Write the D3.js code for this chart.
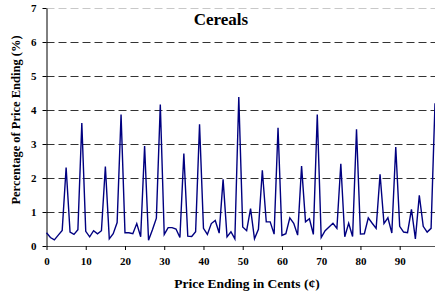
<!DOCTYPE html>
<html>
<head>
<meta charset="utf-8">
<script src="https://cdn.jsdelivr.net/npm/d3@7"></script>
<style>
  body { margin: 0; background: #fff; }
</style>
</head>
<body>
<script>
// Chart Params
var svgWidth = 435;
var svgHeight = 299;
var margin = { top: 8, right: 0, bottom: 53, left: 46.5 };
var width = svgWidth - margin.left - margin.right;
var height = svgHeight - margin.top - margin.bottom;
var fontFam = "'Liberation Serif', 'Times New Roman', serif";

// data: percentage of prices ending in each cent value (0-99)
var cents = d3.range(0, 100);
var percent = [
  0.39, 0.25, 0.18, 0.32, 0.46, 2.31, 0.41, 0.34, 0.48, 3.62,
  0.43, 0.27, 0.45, 0.36, 0.45, 2.34, 0.21, 0.36, 0.69, 3.87,
  0.39, 0.39, 0.36, 0.66, 0.27, 2.94, 0.17, 0.48, 0.82, 4.16,
  0.34, 0.54, 0.54, 0.50, 0.25, 2.72, 0.29, 0.28, 0.42, 3.58,
  0.52, 0.34, 0.66, 0.75, 0.38, 1.96, 0.27, 0.42, 0.21, 4.38,
  0.56, 0.45, 1.10, 0.21, 0.49, 2.23, 0.71, 0.71, 0.35, 3.48,
  0.31, 0.36, 0.83, 0.67, 0.32, 2.35, 0.71, 0.80, 0.34, 3.87,
  0.25, 0.45, 0.56, 0.67, 0.52, 2.42, 0.27, 0.67, 0.28, 3.43,
  0.35, 0.36, 0.83, 0.67, 0.52, 2.11, 0.66, 0.83, 0.38, 2.91,
  0.58, 0.41, 0.39, 1.08, 0.21, 1.49, 0.58, 0.41, 0.52, 4.20
];
var yTicks = [0, 1, 2, 3, 4, 5, 6, 7];
var xTicks = [0, 10, 20, 30, 40, 50, 60, 70, 80, 90];

var svg = d3.select("body").append("svg")
  .attr("width", svgWidth)
  .attr("height", svgHeight)
  .attr("font-family", fontFam)
  .attr("font-weight", "bold");

var chartGroup = svg.append("g")
  .attr("transform", `translate(${margin.left}, ${margin.top})`);

var xScale = d3.scaleLinear().domain([0, 99]).range([0, width]);
var yScale = d3.scaleLinear().domain([0, 7]).range([height, 0]);

// dashed grid lines
chartGroup.selectAll(".grid")
  .data(yTicks.filter(d => d > 0))
  .enter()
  .append("line")
  .attr("x1", 0)
  .attr("x2", width)
  .attr("y1", d => Math.round(yScale(d)) + 0.5)
  .attr("y2", d => Math.round(yScale(d)) + 0.5)
  .attr("stroke", d => d === 7 ? "#c8c8c8" : "#333")
  .attr("stroke-width", 1)
  .attr("stroke-dasharray", "8,4");

// axes
var bottomAxis = d3.axisBottom(xScale).tickValues(xTicks).tickFormat(d3.format("d")).tickSize(4).tickSizeOuter(0);
var leftAxis = d3.axisLeft(yScale).tickValues(yTicks).tickFormat(d3.format("d")).tickSize(4).tickSizeOuter(0);

var xAxis = chartGroup.append("g")
  .attr("transform", `translate(0, ${height})`)
  .call(bottomAxis)
  .attr("font-family", fontFam)
  .attr("font-size", "11px");
xAxis.select(".domain").attr("stroke", "#555");
xAxis.selectAll("text").attr("dy", "1.05em").attr("fill", "#000");

var yAxis = chartGroup.append("g")
  .call(leftAxis)
  .attr("font-family", fontFam)
  .attr("font-size", "11px");
yAxis.select(".domain").attr("stroke", "#000");
yAxis.selectAll("text").attr("x", -10).attr("fill", "#000");

// line
var line = d3.line()
  .x((d, i) => xScale(cents[i]))
  .y(d => yScale(d));

chartGroup.append("path")
  .datum(percent)
  .attr("fill", "none")
  .attr("stroke", "#000080")
  .attr("stroke-width", 1.4)
  .attr("d", line);

// title
svg.append("text")
  .attr("x", 221)
  .attr("y", 25)
  .attr("text-anchor", "middle")
  .attr("font-size", "17px")
  .text("Cereals");

// axis labels
svg.append("text")
  .attr("x", 247)
  .attr("y", 288)
  .attr("text-anchor", "middle")
  .attr("font-size", "13.5px")
  .text("Price Ending in Cents (\u00a2)");

svg.append("text")
  .attr("transform", "rotate(-90)")
  .attr("x", -120)
  .attr("y", 19.5)
  .attr("text-anchor", "middle")
  .attr("font-size", "12.5px")
  .text("Percentage of Price Ending (%)");
</script>
</body>
</html>
